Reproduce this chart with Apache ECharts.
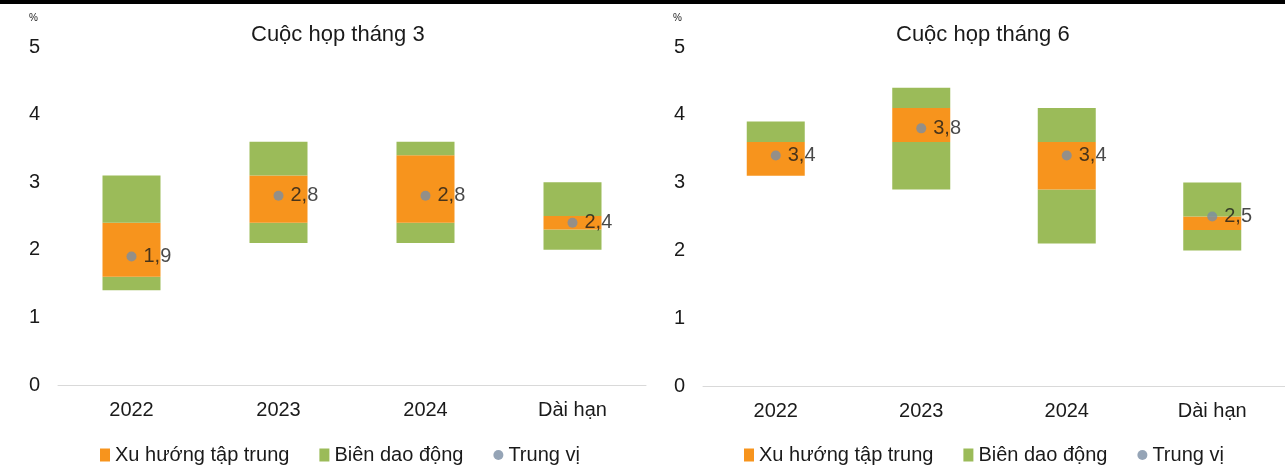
<!DOCTYPE html>
<html>
<head>
<meta charset="utf-8">
<script src="https://cdn.jsdelivr.net/npm/echarts@6/dist/echarts.min.js"></script>
<style>
  html, body { margin: 0; padding: 0; background: #fff; }
  #chart { width: 1285px; height: 466px; }
</style>
</head>
<body>
<div id="chart"></div>
<script>
var categories = ['2022', '2023', '2024', 'Dài hạn'];
var yTicks = [0, 1, 2, 3, 4, 5];

// Cuộc họp tháng 3
var marRangeLow  = [1.4, 2.1, 2.1, 2.0];
var marRangeHigh = [3.1, 3.6, 3.6, 3.0];
var marTrendLow  = [1.6, 2.4, 2.4, 2.3];
var marTrendHigh = [2.4, 3.1, 3.4, 2.5];
var marMedian    = [1.9, 2.8, 2.8, 2.4];

// Cuộc họp tháng 6
var junRangeLow  = [3.1, 2.9, 2.1, 2.0];
var junRangeHigh = [3.9, 4.4, 4.1, 3.0];
var junTrendLow  = [3.1, 3.6, 2.9, 2.3];
var junTrendHigh = [3.6, 4.1, 3.6, 2.5];
var junMedian    = [3.4, 3.8, 3.4, 2.5];

var ORANGE = '#f7941d';
var GREEN = '#9bbb59';
var DOT = '#7b8da4';
var FONT = 'Liberation Sans';
var TEXT = '#1a1a1a';

function diff(a, b) {
    return a.map(function (v, i) { return Math.round((v - b[i]) * 100) / 100; });
}

function panelSeries(idx, rLow, rHigh, tLow, tHigh, med) {
    var stack = 'p' + idx;
    var common = { type: 'bar', stack: stack, xAxisIndex: idx, yAxisIndex: idx, barWidth: 58 };
    return [
        Object.assign({ name: 'base' + idx, data: rLow, itemStyle: { color: 'transparent' }, silent: true }, common),
        Object.assign({ name: 'Biên dao động', data: diff(tLow, rLow), itemStyle: { color: GREEN } }, common),
        Object.assign({ name: 'Xu hướng tập trung', data: diff(tHigh, tLow), itemStyle: { color: ORANGE } }, common),
        Object.assign({ name: 'Biên dao động', data: diff(rHigh, tHigh), itemStyle: { color: GREEN } }, common),
        {
            name: 'Trung vị', type: 'scatter', xAxisIndex: idx, yAxisIndex: idx,
            data: med, symbolSize: 10, itemStyle: { color: DOT }, z: 5,
            label: {
                show: true, position: 'right', distance: 7,
                fontFamily: FONT, fontSize: 20, color: TEXT,
                formatter: function (p) { return String(p.value).replace('.', ','); }
            }
        }
    ];
}

function xAxis(idx) {
    return {
        type: 'category', gridIndex: idx, data: categories,
        axisLine: { lineStyle: { color: '#d9d9d9', width: 1 } },
        axisTick: { show: false },
        axisLabel: { fontFamily: FONT, fontSize: 20, color: TEXT, margin: 15 }
    };
}

function yAxis(idx) {
    return {
        type: 'value', gridIndex: idx, min: yTicks[0], max: yTicks[yTicks.length - 1], interval: 1,
        axisLine: { show: false }, axisTick: { show: false }, splitLine: { show: false },
        axisLabel: { fontFamily: FONT, fontSize: 20, color: TEXT, margin: 18 }
    };
}

function legend(left) {
    return {
        left: left, top: 440, itemWidth: 10, itemHeight: 13, itemGap: 30,
        textStyle: { fontFamily: FONT, fontSize: 20, color: TEXT },
        data: [
            { name: 'Xu hướng tập trung', icon: 'rect' },
            { name: 'Biên dao động', icon: 'rect' },
            { name: 'Trung vị', icon: 'circle', itemStyle: { color: DOT } }
        ]
    };
}

var chart = echarts.init(document.getElementById('chart'));
chart.setOption({
    animation: false,
    title: [
        { text: 'Cuộc họp tháng 3', left: 246, top: 19, textStyle: { fontFamily: FONT, fontSize: 22, fontWeight: 'normal', color: TEXT } },
        { text: 'Cuộc họp tháng 6', left: 891, top: 19, textStyle: { fontFamily: FONT, fontSize: 22, fontWeight: 'normal', color: TEXT } }
    ],
    legend: [legend(95), legend(739)],
    grid: [
        { left: 58, width: 588, top: 47, height: 338 },
        { left: 703, width: 584, top: 47, height: 339 }
    ],
    xAxis: [xAxis(0), xAxis(1)],
    yAxis: [yAxis(0), yAxis(1)],
    graphic: [
        { type: 'rect', left: 0, top: 0, shape: { width: 1285, height: 4 }, style: { fill: '#000' } },
        { type: 'text', left: 29, top: 13, style: { text: '%', fontFamily: FONT, fontSize: 10, fill: TEXT } },
        { type: 'text', left: 673, top: 13, style: { text: '%', fontFamily: FONT, fontSize: 10, fill: TEXT } }
    ],
    series: panelSeries(0, marRangeLow, marRangeHigh, marTrendLow, marTrendHigh, marMedian)
        .concat(panelSeries(1, junRangeLow, junRangeHigh, junTrendLow, junTrendHigh, junMedian))
});
</script>
</body>
</html>
